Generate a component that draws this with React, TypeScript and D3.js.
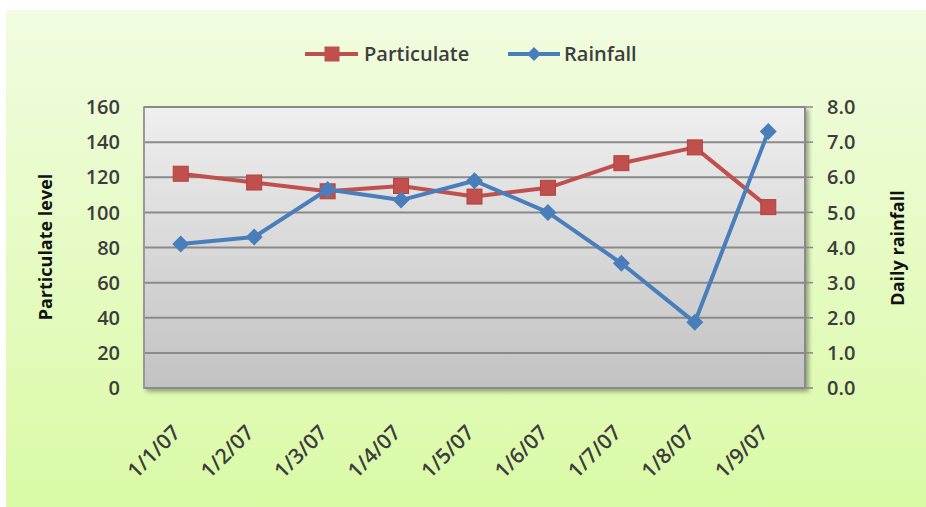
import React from 'react';
import * as d3 from 'd3';

const categories = ['1/1/07', '1/2/07', '1/3/07', '1/4/07', '1/5/07', '1/6/07', '1/7/07', '1/8/07', '1/9/07'];
const particulate = [122, 117, 112, 115, 109, 114, 128, 137, 103];
const rainfall = [4.1, 4.3, 5.65, 5.35, 5.9, 5.0, 3.55, 1.87, 7.3];
const leftTicks = [0, 20, 40, 60, 80, 100, 120, 140, 160];
const rightTicks = [0, 1, 2, 3, 4, 5, 6, 7, 8];
const seriesNames = ['Particulate', 'Rainfall'];
const leftTitle = 'Particulate level';
const rightTitle = 'Daily rainfall';

const W = 926, H = 507;
const PL = 144, PR = 805, PT = 107, PB = 388;
const RED = '#C0504D';
const BLUE = '#4A7EBB';
const FONT = '"Open Sans", Lato, sans-serif';
const TEXT = '#3d3d3d';

export default function App() {
  const x = d3.scaleBand<string>().domain(categories).range([PL, PR]);
  const cx = (c: string) => (x(c) as number) + x.bandwidth() / 2;
  const yL = d3.scaleLinear().domain([0, 160]).range([PB, PT]);
  const yR = d3.scaleLinear().domain([0, 8]).range([PB, PT]);

  const lineL = d3.line<number>().x((_, i) => cx(categories[i])).y(d => yL(d));
  const lineR = d3.line<number>().x((_, i) => cx(categories[i])).y(d => yR(d));

  const sq = 15;
  const dm = 8.5;
  const diamond = (px: number, py: number, r: number) =>
    `M${px},${py - r}L${px + r},${py}L${px},${py + r}L${px - r},${py}Z`;

  return (
    <svg width={W} height={H} style={{ position: 'absolute', left: 0, top: 0 }} xmlns="http://www.w3.org/2000/svg">
      <defs>
        <linearGradient id="bg" x1="0" y1="0" x2="0" y2="1">
          <stop offset="0" stopColor="#F1FCE0" />
          <stop offset="1" stopColor="#DAFAA6" />
        </linearGradient>
        <linearGradient id="plot" x1="0" y1="0" x2="0" y2="1">
          <stop offset="0" stopColor="#EFEFEF" />
          <stop offset="1" stopColor="#C2C2C2" />
        </linearGradient>
        <filter id="shadow" x="-5%" y="-5%" width="110%" height="115%">
          <feDropShadow dx="3" dy="3" stdDeviation="2" floodColor="#000" floodOpacity="0.35" />
        </filter>
      </defs>
      <rect x={0} y={0} width={W} height={H} fill="#fff" />
      <rect x={6} y={10} width={W - 6} height={H - 10} fill="url(#bg)" />

      {/* plot area */}
      <rect x={PL} y={PT} width={PR - PL} height={PB - PT} fill="url(#plot)" stroke="#7f7f7f" strokeWidth={1.5} filter="url(#shadow)" />

      {/* gridlines */}
      {leftTicks.map(t => (
        <line key={'g' + t} x1={PL} x2={PR} y1={yL(t)} y2={yL(t)} stroke="#8a8a8a" strokeWidth={2} />
      ))}
      {/* right axis line and ticks */}
      <line x1={PR} x2={PR} y1={PT} y2={PB} stroke="#8a8a8a" strokeWidth={2} />
      {rightTicks.map(t => (
        <line key={'rt' + t} x1={PR} x2={PR + 8} y1={yR(t)} y2={yR(t)} stroke="#8a8a8a" strokeWidth={1.5} />
      ))}
      <line x1={PL} x2={PL} y1={PT} y2={PB} stroke="#9a9a9a" strokeWidth={1.5} />

      {/* left tick labels */}
      {leftTicks.map(t => (
        <text key={'lt' + t} x={120} y={yL(t)} dy="0.36em" textAnchor="end" fontFamily={FONT} fontWeight={600} fontSize={20} fill={TEXT}>
          {t}
        </text>
      ))}
      {/* right tick labels */}
      {rightTicks.map(t => (
        <text key={'rl' + t} x={827} y={yR(t)} dy="0.36em" textAnchor="start" fontFamily={FONT} fontWeight={600} fontSize={20} fill={TEXT}>
          {t.toFixed(1)}
        </text>
      ))}

      {/* x labels */}
      {categories.map(c => (
        <text key={'x' + c} transform={`translate(${cx(c) + 1},${434}) rotate(-45)`} textAnchor="end" fontFamily={FONT} fontWeight={600} fontSize={21} fill={TEXT}>
          {c}
        </text>
      ))}

      {/* axis titles */}
      <text transform={`translate(46,247) rotate(-90)`} textAnchor="middle" dy="0.35em" fontFamily={FONT} fontWeight="bold" fontSize={18} fill="#111">
        {leftTitle}
      </text>
      <text transform={`translate(898,248) rotate(-90)`} textAnchor="middle" dy="0.35em" fontFamily={FONT} fontWeight="bold" fontSize={18} fill="#111">
        {rightTitle}
      </text>

      {/* series */}
      <path d={lineL(particulate) ?? ''} fill="none" stroke={RED} strokeWidth={4} strokeLinejoin="round" />
      {particulate.map((v, i) => (
        <rect key={'p' + i} x={cx(categories[i]) - sq / 2} y={yL(v) - sq / 2} width={sq} height={sq} fill={RED} stroke="#B5403C" strokeWidth={1} />
      ))}
      <path d={lineR(rainfall) ?? ''} fill="none" stroke={BLUE} strokeWidth={4} strokeLinejoin="round" />
      {rainfall.map((v, i) => (
        <path key={'r' + i} d={diamond(cx(categories[i]), yR(v), dm)} fill={BLUE} />
      ))}

      {/* legend */}
      <line x1={305} x2={358} y1={54} y2={54} stroke={RED} strokeWidth={4} />
      <rect x={332 - 7.5} y={54 - 7.5} width={15} height={15} fill={RED} />
      <text x={364} y={54} dy="0.36em" fontFamily={FONT} fontSize={20} fontWeight={600} fill={TEXT}>{seriesNames[0]}</text>
      <line x1={508} x2={560} y1={54} y2={54} stroke={BLUE} strokeWidth={4} />
      <path d={diamond(534, 54, 7)} fill={BLUE} />
      <text x={564} y={54} dy="0.36em" fontFamily={FONT} fontSize={20} fontWeight={600} fill={TEXT}>{seriesNames[1]}</text>
    </svg>
  );
}
